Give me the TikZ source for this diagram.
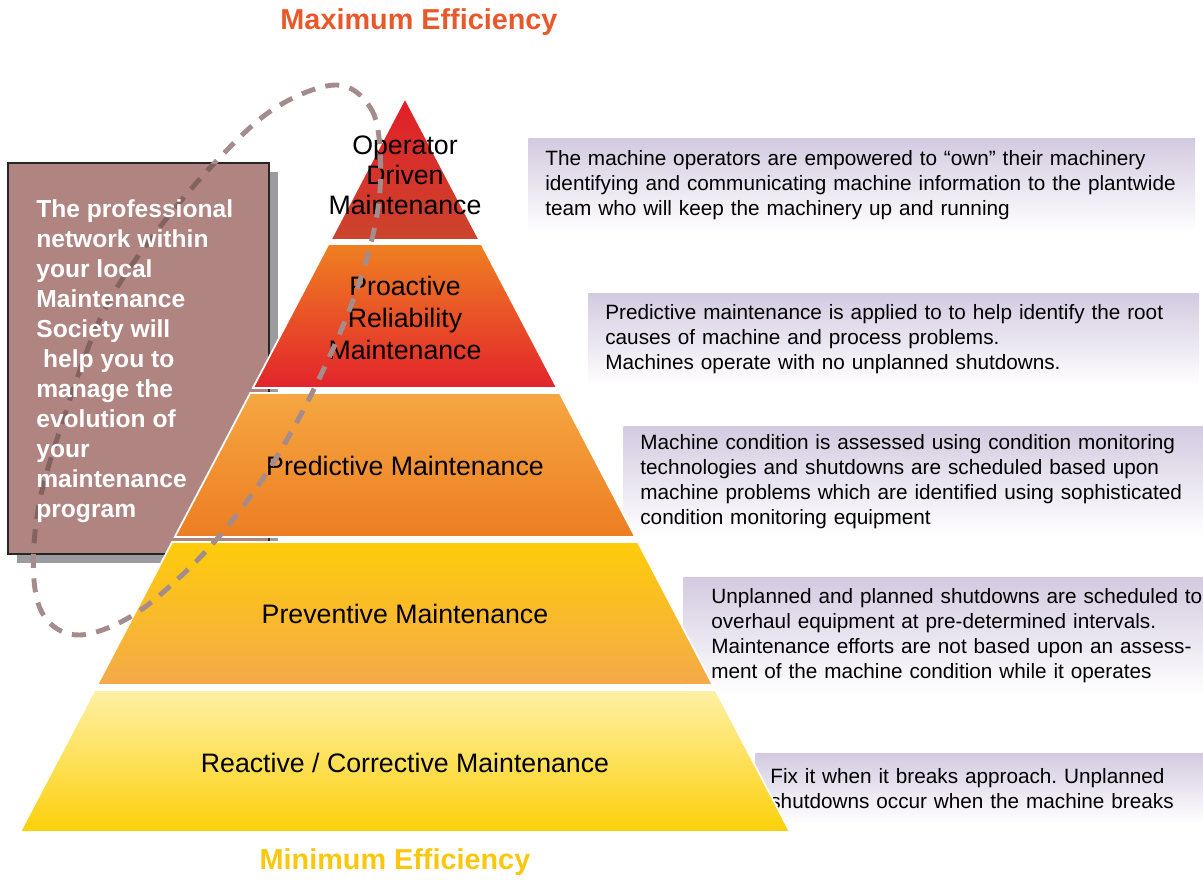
\documentclass[tikz,border=0pt]{standalone}
\usepackage{fontspec}
\setmainfont{Liberation Sans}
\frenchspacing
\definecolor{layAt}{HTML}{E21F27}
\definecolor{layAb}{HTML}{CB452D}
\definecolor{layBt}{HTML}{EF8022}
\definecolor{layBb}{HTML}{E3242B}
\definecolor{layCt}{HTML}{F5A742}
\definecolor{layCb}{HTML}{ED7D22}
\definecolor{layDt}{HTML}{FECC0A}
\definecolor{layDb}{HTML}{F4A94A}
\definecolor{layEt}{HTML}{FEF0A5}
\definecolor{layEb}{HTML}{FDD00A}
\definecolor{lav}{HTML}{D3CAE0}
\definecolor{boxc}{HTML}{B08480}
\definecolor{shadowc}{HTML}{9B9BA0}
\definecolor{loopc}{HTML}{A48C8C}
\definecolor{maxc}{HTML}{E8582A}
\definecolor{minc}{HTML}{F9C80E}
\begin{document}
\begin{tikzpicture}[x=0.02cm,y=-0.02cm]
\tikzstyle{lbl} = [font=\fontsize{15.2}{17}\selectfont, align=center, inner sep=0pt] %layer label
\tikzstyle{desc} = [anchor=north west, top color=lav, bottom color=white, font=\fontsize{11.8}{14.2}\selectfont, align=left, inner xsep=0.34cm, inner ysep=0pt] %description
\tikzstyle{ttl} = [font=\fontsize{16.4}{20}\selectfont\bfseries] %title
\tikzstyle{loopline} = [draw=loopc, line width=2.8pt, dash pattern=on 8pt off 6pt] %dashed loop
\useasboundingbox (0,0) rectangle (1203,879);
% descriptions
\node[desc, text width=12.66cm, minimum height=1.88cm](d1)at(528,138){The machine operators are empowered to ``own'' their machinery\\identifying and communicating machine information to the plantwide\\team who will keep the machinery up and running};
\node[desc, text width=11.54cm, minimum height=1.84cm](d2)at(588,293){Predictive maintenance is applied to to help identify the root\\causes of machine and process problems.\\Machines operate with no unplanned shutdowns.};
\node[desc, text width=11.4cm, minimum height=2.2cm](d3)at(623,426){Machine condition is assessed using condition monitoring\\technologies and shutdowns are scheduled based upon\\machine problems which are identified using sophisticated\\condition monitoring equipment};
\node[desc, text width=10.4cm, minimum height=2.34cm, inner xsep=0.56cm](d4)at(683,577){Unplanned and planned shutdowns are scheduled to\\overhaul equipment at pre-determined intervals.\\Maintenance efforts are not based upon an assess-\\ment of the machine condition while it operates};
\node[desc, text width=8.5cm, minimum height=1.4cm, inner xsep=0.3cm](d5)at(755,753){Fix it when it breaks approach. Unplanned\\shutdowns occur when the machine breaks};
% side box
\fill[shadowc] (17,172) rectangle (278,563);
\draw[fill=boxc, draw=black!85, line width=1pt] (8,163) rectangle (269,554);
% pyramid
\foreach \ya/\yb/\ct/\cb in {98/240/layAt/layAb, 244/388/layBt/layBb, 393/537/layCt/layCb, 542/685/layDt/layDb, 690/832/layEt/layEb}{
  \pgfmathsetmacro\wa{0.5245*(\ya-98)}
  \pgfmathsetmacro\wb{0.5245*(\yb-98)}
  \shade[top color=\ct, bottom color=\cb, draw=white, line width=1pt] (405-\wa,\ya) -- (405+\wa,\ya) -- (405+\wb,\yb) -- (405-\wb,\yb) -- cycle;
}
\node[lbl](op)at(405,175){Operator\\Driven\\Maintenance};
\node[lbl, font=\fontsize{15.2}{18.1}\selectfont](pro)at(405,318){Proactive\\Reliability\\Maintenance};
\node[lbl](pred)at(405,466){Predictive Maintenance};
\node[lbl](prev)at(405,614){Preventive Maintenance};
\node[lbl](reac)at(405,763){Reactive / Corrective Maintenance};
% titles
\node[ttl, text=maxc](maxeff)at(419,22){Maximum Efficiency};
\node[ttl, text=minc](mineff)at(395,862){Minimum Efficiency};
% dashed loop, faint where it crosses the box
\def\looppath{plot[smooth cycle, tension=0.6] coordinates {(337,85) (370,107) (380,150) (377,215) (355,295) (317,383) (273,463) (227,527) (180,577) (130,617) (80,635) (47,620) (34,580) (38,510) (60,430) (103,313) (160,227) (227,150) (280,105)}}
\begin{scope}[even odd rule]
\clip (0,0) rectangle (1203,879) (9,164) -- (268,164) -- (268,359) -- (167,553) -- (9,553) -- cycle;
\draw[loopline] \looppath;
\end{scope}
\begin{scope}
\clip (9,164) -- (268,164) -- (268,359) -- (167,553) -- (9,553) -- cycle;
\draw[loopline, draw opacity=0.5, draw=black!50!boxc] \looppath;
\end{scope}
% box text
\node[font=\fontsize{14}{17.1}\selectfont\bfseries, text=white, align=left, anchor=west, inner sep=0pt](boxtxt)at(36,361){The professional\\network within\\your local\\Maintenance\\Society will\\\ help you to\\manage the\\evolution of\\your\\maintenance\\program};
\end{tikzpicture}
\end{document}
